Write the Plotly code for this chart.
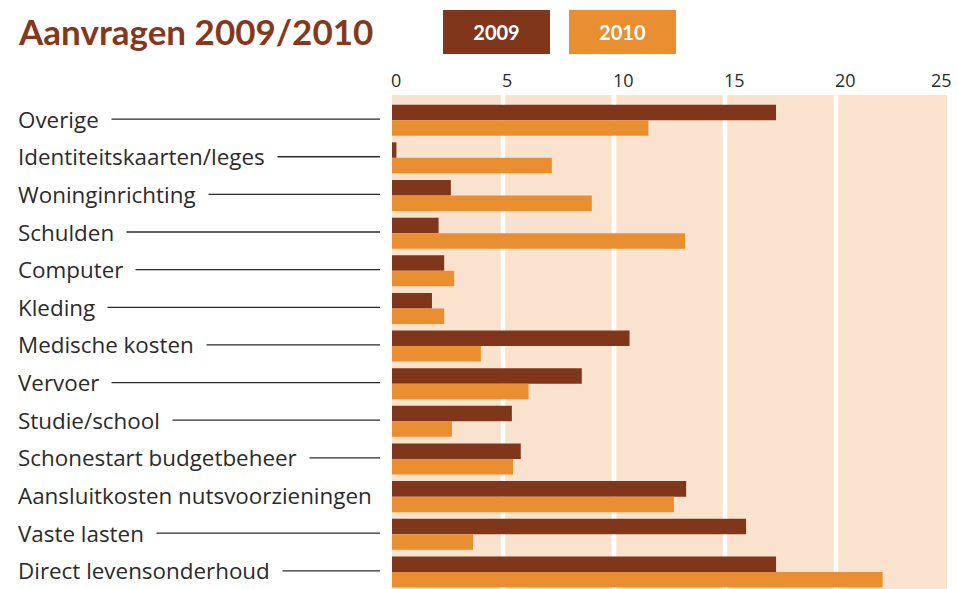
import plotly.graph_objects as go

# ---- data ----
categories = [
    "Overige", "Identiteitskaarten/leges", "Woninginrichting", "Schulden",
    "Computer", "Kleding", "Medische kosten", "Vervoer", "Studie/school",
    "Schonestart budgetbeheer", "Aansluitkosten nutsvoorzieningen",
    "Vaste lasten", "Direct levensonderhoud",
]
values_2009 = [17.3, 0.2, 2.65, 2.1, 2.35, 1.8, 10.7, 8.55, 5.4, 5.8, 13.25, 15.95, 17.3]
values_2010 = [11.55, 7.2, 9.0, 13.2, 2.8, 2.35, 4.0, 6.15, 2.7, 5.45, 12.7, 3.65, 22.1]
series_names = ["2009", "2010"]
x_ticks = [0, 5, 10, 15, 20, 25]
title_text = "Aanvragen 2009/2010"

# ---- style ----
W, H = 958, 589
ML, MR, MT, MB = 392, 11, 95, 0
PW, PH = W - ML - MR, H - MT - MB
C2009 = "#80361B"
C2010 = "#EA8E32"
PANEL = "#FAE3CE"
TXT = "#2b2b2b"

def px2x(px):
    return (px - ML) / PW

def py2y(py):
    return (H - MB - py) / PH

idx = list(range(len(categories)))

fig = go.Figure()
fig.add_trace(go.Bar(y=idx, x=values_2009, orientation="h", name=series_names[0],
                     marker=dict(color=C2009, line=dict(width=0))))
fig.add_trace(go.Bar(y=idx, x=values_2010, orientation="h", name=series_names[1],
                     marker=dict(color=C2010, line=dict(width=0))))

shapes = []
# white vertical separators in the panel
for t in x_ticks[1:-1]:
    shapes.append(dict(type="line", xref="x", yref="paper", x0=t, x1=t, y0=0, y1=1,
                       line=dict(color="white", width=4.5), layer="below"))
# leader lines
for i in idx:
    shapes.append(dict(type="line", xref="paper", yref="y", x0=px2x(40), x1=px2x(380),
                       y0=i - 0.03, y1=i - 0.03, line=dict(color=TXT, width=1.3)))

annotations = []
pad = 12
label_font = dict(family="Open Sans", size=22.4)
# masks hiding the leader line under each label
for i, c in enumerate(categories):
    annotations.append(dict(text=c, xref="paper", yref="y", x=px2x(17 - pad), y=i - 0.03,
                            xanchor="left", yanchor="middle", showarrow=False,
                            bgcolor="white", borderpad=pad,
                            font=dict(color="rgba(0,0,0,0)", **label_font)))
# category labels on top
for i, c in enumerate(categories):
    annotations.append(dict(text=c, xref="paper", yref="y", x=px2x(17 - pad), y=i - 0.03,
                            xanchor="left", yanchor="middle", showarrow=False,
                            borderpad=pad,
                            font=dict(color=TXT, **label_font)))
# tick labels along the top
for j, t in enumerate(x_ticks):
    last = j == len(x_ticks) - 1
    annotations.append(dict(text=str(t), xref="x", yref="paper", x=t, y=py2y(80),
                            xanchor="right" if last else "left", yanchor="middle",
                            xshift=7 if last else -3, showarrow=False,
                            font=dict(family="Open Sans", size=18, color=TXT)))
# title
annotations.append(dict(text="<b>" + title_text + "</b>", xref="paper", yref="paper",
                        x=px2x(16), y=py2y(31), xanchor="left", yanchor="middle",
                        showarrow=False,
                        font=dict(family="Lato", size=35, color="#86381D")))
# legend boxes
legend_left = [443, 569]
for name, col, lx in zip(series_names, [C2009, C2010], legend_left):
    annotations.append(dict(text="<b>" + name + "</b>", xref="paper", yref="paper",
                            x=px2x(lx), y=py2y(10), xanchor="left", yanchor="top",
                            width=107, height=44, bgcolor=col, borderpad=0, borderwidth=0,
                            align="center", valign="middle", showarrow=False,
                            font=dict(family="Lato", size=20, color="white")))

fig.update_layout(
    width=W, height=H,
    margin=dict(l=ML, r=MR, t=MT, b=MB, pad=0),
    paper_bgcolor="white", plot_bgcolor=PANEL,
    barmode="group", bargap=0.176, bargroupgap=0,
    showlegend=False,
    xaxis=dict(range=[0, 25], showgrid=False, zeroline=False, showticklabels=False,
               ticks="", showline=False, fixedrange=True),
    yaxis=dict(range=[12.454, -0.67], showgrid=False, zeroline=False,
               showticklabels=False, ticks="", showline=False, fixedrange=True),
    shapes=shapes, annotations=annotations,
)

fig.write_html("out.html", config={"displayModeBar": False},
               post_script="document.body.style.margin='0px';document.body.style.overflow='hidden';")
